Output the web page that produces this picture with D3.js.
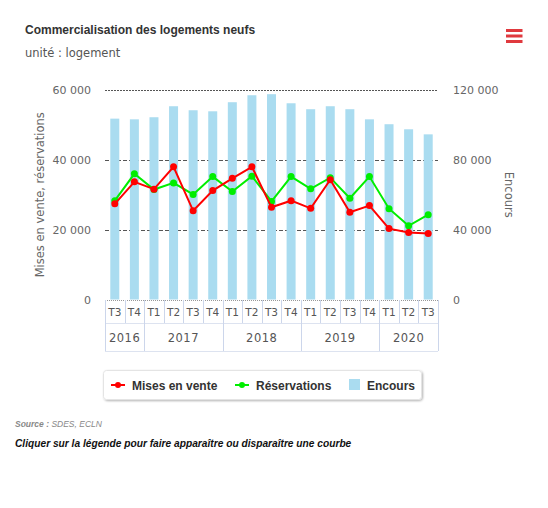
<!DOCTYPE html>
<html>
<head>
<meta charset="utf-8">
<script src="https://cdn.jsdelivr.net/npm/d3@7"></script>
<style>
  body { margin: 0; background: #fff; }
  svg { display: block; font-family: "DejaVu Sans", sans-serif; }
</style>
</head>
<body>
<div id="chart"></div>
<script>
// Data
const quarters = ['T3', 'T4', 'T1', 'T2', 'T3', 'T4', 'T1', 'T2', 'T3', 'T4', 'T1', 'T2', 'T3', 'T4', 'T1', 'T2', 'T3'];
const years = [
  { label: '2016', count: 2 },
  { label: '2017', count: 4 },
  { label: '2018', count: 4 },
  { label: '2019', count: 4 },
  { label: '2020', count: 3 }
];
const misesEnVente = [27400, 33700, 31600, 38000, 25400, 31200, 34700, 38000, 26400, 28300, 26100, 34300, 25000, 26900, 20300, 19200, 18900];
const reservations = [28300, 36000, 31500, 33400, 30100, 35200, 30900, 35300, 28100, 35200, 31700, 34900, 29000, 35200, 26000, 21100, 24300];
const encours = [103600, 103200, 104400, 110700, 108400, 107800, 113000, 117000, 117600, 112400, 109000, 110700, 109000, 103200, 100400, 97500, 94600];
const leftTicks = [0, 20000, 40000, 60000];
const rightTicks = [0, 40000, 80000, 120000];

const width = 548, height = 508;
const plotLeft = 105, plotRight = 438, plotTop = 90, plotBottom = 299.5;

const svg = d3.select('#chart').append('svg')
  .attr('width', width)
  .attr('height', height);

const defs = svg.append('defs');
const shadow = defs.append('filter').attr('id', 'shadow')
  .attr('x', '-10%').attr('y', '-30%').attr('width', '120%').attr('height', '170%');
shadow.append('feDropShadow')
  .attr('dx', 1).attr('dy', 1).attr('stdDeviation', 1.2)
  .attr('flood-color', '#000').attr('flood-opacity', 0.3);

// Title
svg.append('text')
  .attr('x', 25).attr('y', 34)
  .style('font-family', 'Liberation Sans, Arial, sans-serif')
  .style('font-size', '12px').style('font-weight', 'bold')
  .attr('fill', '#333')
  .text('Commercialisation des logements neufs');

svg.append('text')
  .attr('x', 25).attr('y', 57)
  .style('font-family', 'DejaVu Sans, sans-serif')
  .style('font-size', '11.5px')
  .attr('fill', '#555')
  .text('unité : logement');

// Menu icon
[30.5, 36, 41.5].forEach(y => {
  svg.append('rect')
    .attr('x', 506).attr('y', y - 1.5)
    .attr('width', 16.5).attr('height', 3)
    .attr('fill', '#e0393e');
});

// Scales
const x = d3.scaleBand()
  .domain(d3.range(quarters.length))
  .range([plotLeft, plotRight]);
const yLeft = d3.scaleLinear().domain([0, 60000]).range([plotBottom, plotTop]);
const yRight = d3.scaleLinear().domain([0, 120000]).range([plotBottom, plotTop]);
const fmt = d => d3.format(',')(d).replace(/,/g, ' ');
const edge = i => i < quarters.length ? x(i) : plotRight;

// Grid
svg.append('g')
  .selectAll('line')
  .data(leftTicks.filter(d => d > 0))
  .join('line')
  .attr('x1', plotLeft).attr('x2', plotRight)
  .attr('y1', d => Math.round(yLeft(d)) + 0.5)
  .attr('y2', d => Math.round(yLeft(d)) + 0.5)
  .attr('stroke', '#555')
  .attr('stroke-dasharray', d => d === 60000 ? '2,1' : '4,2');

// Left axis labels
svg.append('g')
  .call(d3.axisLeft(yLeft).tickValues(leftTicks).tickFormat(fmt).tickSize(0).tickPadding(0))
  .attr('transform', `translate(91,0)`)
  .call(g => g.select('.domain').remove())
  .selectAll('text')
  .style('font-family', 'DejaVu Sans, sans-serif')
  .style('font-size', '11px')
  .attr('fill', '#666');

// Right axis labels
svg.append('g')
  .call(d3.axisRight(yRight).tickValues(rightTicks).tickFormat(fmt).tickSize(0).tickPadding(0))
  .attr('transform', `translate(453,0)`)
  .call(g => g.select('.domain').remove())
  .selectAll('text')
  .style('font-family', 'DejaVu Sans, sans-serif')
  .style('font-size', '11px')
  .attr('fill', '#666');

// Axis titles
svg.append('text')
  .attr('transform', `translate(44, ${(plotTop + plotBottom) / 2}) rotate(-90)`)
  .attr('text-anchor', 'middle')
  .style('font-size', '11.5px')
  .attr('fill', '#666')
  .text('Mises en vente, réservations');

svg.append('text')
  .attr('transform', `translate(505, ${(plotTop + plotBottom) / 2}) rotate(90)`)
  .attr('text-anchor', 'middle')
  .style('font-size', '11.5px')
  .attr('fill', '#666')
  .text('Encours');

// Bars (Encours)
const barW = 9;
svg.append('g')
  .selectAll('rect')
  .data(encours)
  .join('rect')
  .attr('x', (d, i) => x(i) + x.bandwidth() / 2 - barW / 2)
  .attr('y', d => yRight(d))
  .attr('width', barW)
  .attr('height', d => plotBottom - yRight(d))
  .attr('fill', '#aadcf0');

// Category boxes
const catG = svg.append('g');
const row1 = 300, row2 = 323, row3 = 351;
catG.append('line')
  .attr('x1', plotLeft).attr('x2', plotRight)
  .attr('y1', row1 + 0.5).attr('y2', row1 + 0.5)
  .attr('stroke', '#999').attr('stroke-dasharray', '1,1');
catG.append('line')
  .attr('x1', plotLeft).attr('x2', plotRight)
  .attr('y1', row2 + 0.5).attr('y2', row2 + 0.5)
  .attr('stroke', '#dde3f0');
catG.append('line')
  .attr('x1', plotLeft).attr('x2', plotRight)
  .attr('y1', row3 + 0.5).attr('y2', row3 + 0.5)
  .attr('stroke', '#dde3f0');
catG.selectAll('line.q')
  .data(d3.range(quarters.length + 1))
  .join('line')
  .attr('class', 'q')
  .attr('x1', i => Math.round(edge(i)) + 0.5)
  .attr('x2', i => Math.round(edge(i)) + 0.5)
  .attr('y1', row1).attr('y2', row2)
  .attr('stroke', '#ccd6eb');
catG.selectAll('text.q')
  .data(quarters)
  .join('text')
  .attr('class', 'q')
  .attr('x', (d, i) => x(i) + x.bandwidth() / 2)
  .attr('y', 316)
  .attr('text-anchor', 'middle')
  .style('font-size', '10.5px')
  .attr('fill', '#555')
  .text(d => d);

let start = 0;
const yearPos = years.map(y => {
  const p = { label: y.label, from: start, to: start + y.count };
  start += y.count;
  return p;
});
catG.selectAll('line.y')
  .data([0, ...yearPos.map(p => p.to)])
  .join('line')
  .attr('class', 'y')
  .attr('x1', i => Math.round(edge(i)) + 0.5)
  .attr('x2', i => Math.round(edge(i)) + 0.5)
  .attr('y1', row2).attr('y2', row3)
  .attr('stroke', '#ccd6eb');
catG.selectAll('text.y')
  .data(yearPos)
  .join('text')
  .attr('class', 'y')
  .attr('x', p => (edge(p.from) + edge(p.to)) / 2)
  .attr('y', 342)
  .attr('text-anchor', 'middle')
  .style('font-size', '11.5px')
  .style('letter-spacing', '0.5px')
  .attr('fill', '#555')
  .text(p => p.label);

// Lines
function drawSeries(values, color) {
  const line = d3.line()
    .x((d, i) => x(i) + x.bandwidth() / 2)
    .y(d => yLeft(d));
  svg.append('path')
    .datum(values)
    .attr('d', line)
    .attr('fill', 'none')
    .attr('stroke', color)
    .attr('stroke-width', 2);
  svg.append('g')
    .selectAll('circle')
    .data(values)
    .join('circle')
    .attr('cx', (d, i) => x(i) + x.bandwidth() / 2)
    .attr('cy', d => yLeft(d))
    .attr('r', 3.5)
    .attr('fill', color);
}
drawSeries(reservations, '#00ee00');
drawSeries(misesEnVente, '#ff0000');

// Legend
const lg = svg.append('g');
lg.append('rect')
  .attr('x', 103.5).attr('y', 370.5)
  .attr('width', 318).attr('height', 29)
  .attr('rx', 3)
  .attr('fill', '#fff')
  .attr('stroke', '#e4e4e4')
  .attr('filter', 'url(#shadow)');
const legendItems = [
  { label: 'Mises en vente', color: '#ff0000', type: 'line', x: 111 },
  { label: 'Réservations', color: '#00ee00', type: 'line', x: 235 },
  { label: 'Encours', color: '#aadcf0', type: 'bar', x: 349 }
];
legendItems.forEach(item => {
  if (item.type === 'line') {
    lg.append('line')
      .attr('x1', item.x).attr('x2', item.x + 14)
      .attr('y1', 385).attr('y2', 385)
      .attr('stroke', item.color).attr('stroke-width', 2);
    lg.append('circle')
      .attr('cx', item.x + 7).attr('cy', 385).attr('r', 3)
      .attr('fill', item.color);
  } else {
    lg.append('rect')
      .attr('x', item.x).attr('y', 379)
      .attr('width', 11).attr('height', 11)
      .attr('fill', item.color);
  }
  lg.append('text')
    .attr('x', item.type === 'line' ? item.x + 21 : item.x + 18)
    .attr('y', 389.5)
    .style('font-family', 'Liberation Sans, Arial, sans-serif')
    .style('font-size', '12px')
    .style('font-weight', 'bold')
    .attr('fill', '#333')
    .text(item.label);
});

// Source and note
const src = svg.append('text')
  .attr('x', 15).attr('y', 427)
  .style('font-family', 'Liberation Sans, Arial, sans-serif')
  .style('font-size', '8.5px')
  .style('font-style', 'italic')
  .attr('fill', '#888');
src.append('tspan').style('font-weight', 'bold').text('Source :');
src.append('tspan').text(' SDES, ECLN');

svg.append('text')
  .attr('x', 15).attr('y', 447)
  .style('font-family', 'Liberation Sans, Arial, sans-serif')
  .style('font-size', '10.2px')
  .style('font-style', 'italic')
  .style('font-weight', 'bold')
  .attr('fill', '#111')
  .text('Cliquer sur la légende pour faire apparaître ou disparaître une courbe');
</script>
</body>
</html>
